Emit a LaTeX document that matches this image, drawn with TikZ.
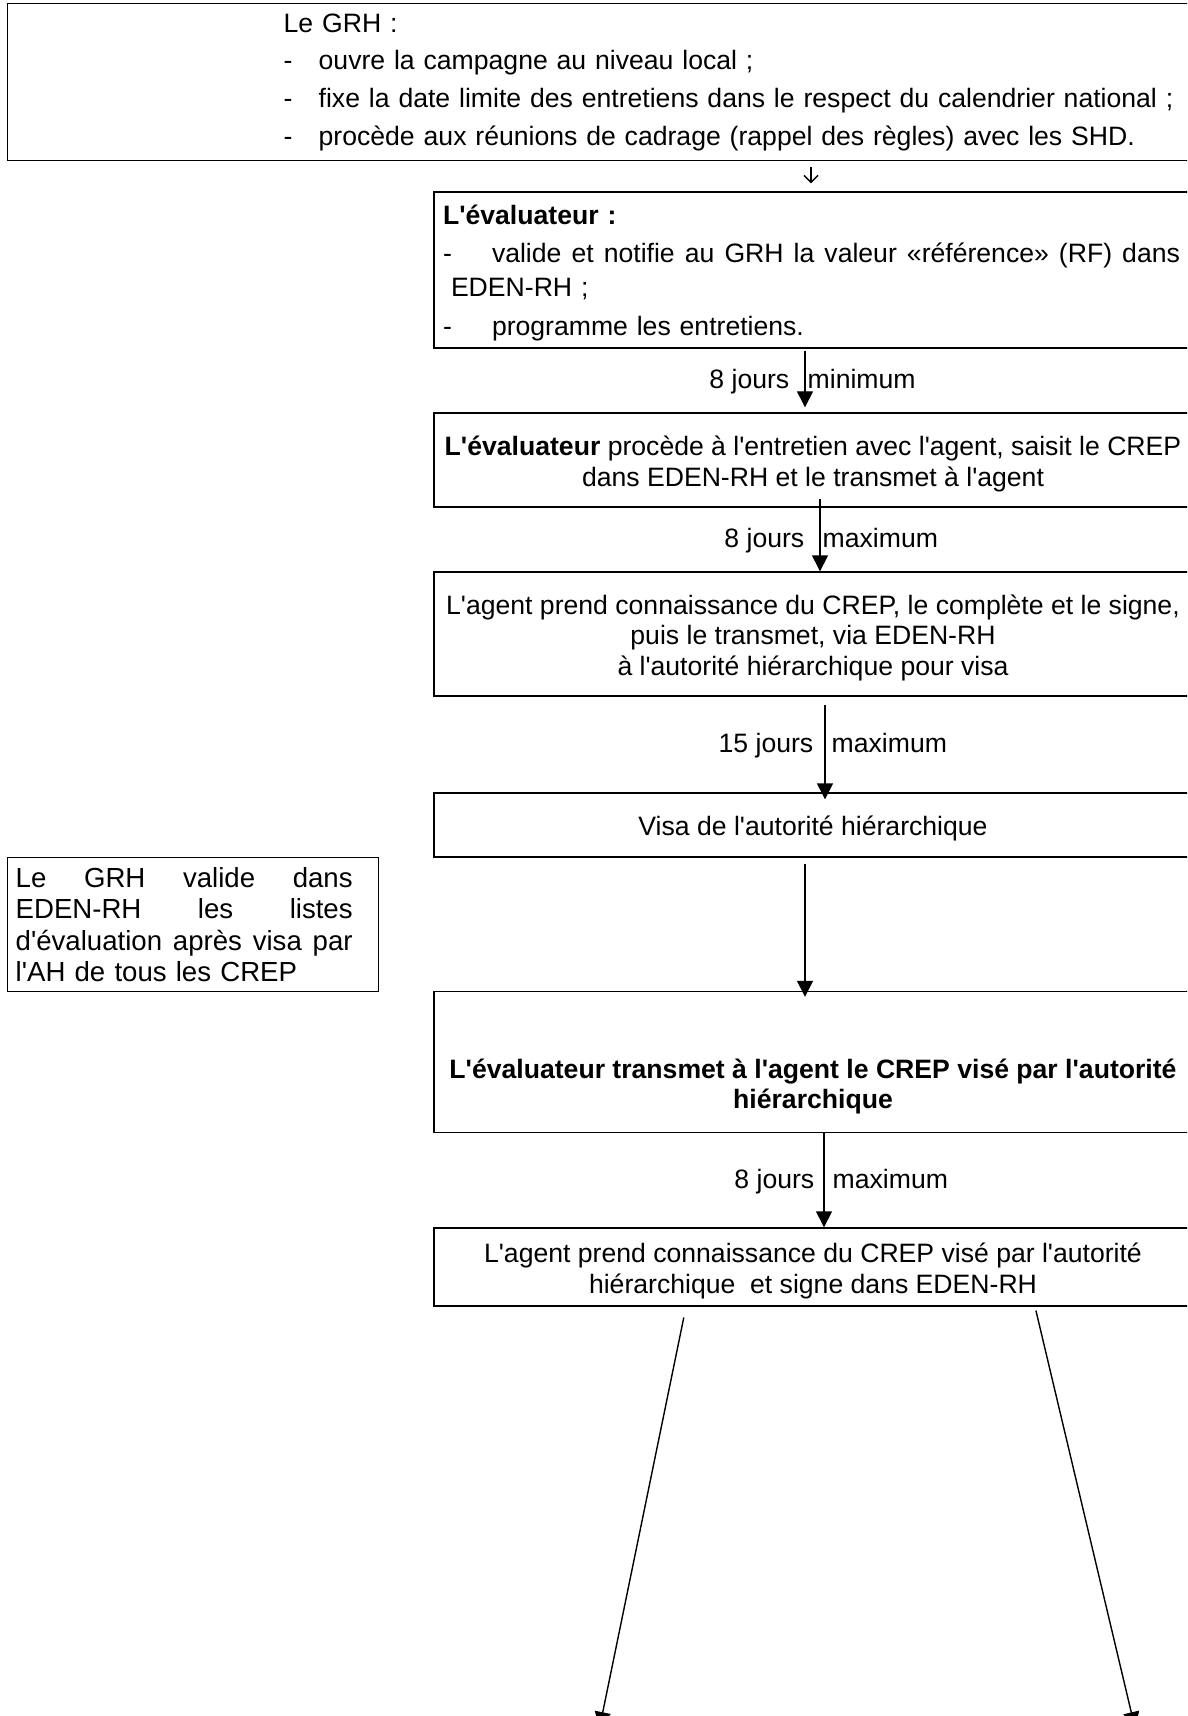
\documentclass[tikz,border=0pt]{standalone}
\usepackage{fontspec}
\setmainfont{Liberation Sans}[Ligatures=TeXOff]
\usepackage{tikz}
\usetikzlibrary{arrows.meta, calc}

\newcommand{\topstrut}{\rule{0pt}{13.5pt}}

\begin{document}
\begin{tikzpicture}[
  x=0.5pt, y=-0.5pt,
  box/.style={rectangle, draw, line width=0.7pt, inner sep=0pt, minimum width=379pt,
    align=center, font=\fontsize{13.3pt}{15.3pt}\selectfont},
  lbl/.style={inner sep=0pt, yshift=-4pt, font=\fontsize{13.3pt}{15.3pt}\selectfont},
  arrow/.style={-{Triangle[length=8pt, width=8pt]}, line width=0.7pt},
  barb/.style={-{Straight Barb[length=3.5pt, width=7pt]}, line width=0.7pt},
]
\useasboundingbox (0,0) rectangle (1187,1716);
\clip (0,0) rectangle (1187,1716);

\node[box, anchor=north west, minimum width=596.5pt, minimum height=78.5pt, text width=596.5pt, align=left] (grh) at (7,3)
  {\hspace*{138pt}Le GRH :\\[3.5pt]
   \hspace*{138pt}\makebox[17.5pt][l]{-}ouvre la campagne au niveau local ;\\[3.5pt]
   \hspace*{138pt}\makebox[17.5pt][l]{-}fixe la date limite des entretiens dans le respect du calendrier national ;\\[3.5pt]
   \hspace*{138pt}\makebox[17.5pt][l]{-}procède aux réunions de cadrage (rappel des règles) avec les SHD.};
\node[box, minimum height=78pt, text width=370pt, inner xsep=4.5pt, align=left] (evaluateur) at (813,270)
  {\rule{0pt}{13pt}\textbf{L'évaluateur :}\\[3.5pt]
   \makebox[24.5pt][l]{-}\makebox[344pt][s]{valide \hfill et \hfill notifie \hfill au \hfill GRH \hfill la \hfill valeur \hfill «référence» \hfill (RF) \hfill dans}\\[1.5pt]
   \hspace*{4pt}EDEN-RH ;\\[4.5pt]
   \makebox[24.5pt][l]{-}programme les entretiens.};
\node[box, minimum height=47pt] (entretien) at (813,460)
  {\topstrut\textbf{L'évaluateur} procède à l'entretien avec l'agent, saisit le CREP\\dans EDEN-RH et le transmet à l'agent};
\node[box, minimum height=62pt] (crepagent) at (813,634)
  {\topstrut L'agent prend connaissance du CREP, le complète et le signe,\\puis le transmet, via EDEN-RH\\à l'autorité hiérarchique pour visa};
\node[box, minimum height=32pt] (visa) at (813,825) {\topstrut Visa de l'autorité hiérarchique};
\node[box, anchor=north west, minimum width=185.5pt, minimum height=67pt, text width=177.5pt, inner xsep=4pt, align=left,
  font=\fontsize{13.8pt}{15.6pt}\selectfont] (listes) at (7,857)
  {\makebox[168.5pt][s]{Le \hfill GRH \hfill valide \hfill dans}\\
   \makebox[168.5pt][s]{EDEN-RH \hfill les \hfill listes}\\
   \makebox[168.5pt][s]{d'évaluation \hfill après \hfill visa \hfill par}\\
   l'AH de tous les CREP};
\node[box, minimum height=70.5pt, font=\fontsize{13.3pt}{15.3pt}\selectfont\bfseries] (transmet) at (813,1062)
  {\mbox{}\\[19pt]L'évaluateur transmet à l'agent le CREP visé par l'autorité\\hiérarchique};
\node[box, minimum height=39pt] (signature) at (813,1267)
  {\topstrut L'agent prend connaissance du CREP visé par l'autorité\\hiérarchique\ \ et signe dans EDEN-RH};

\coordinate (outleft) at (599.5,1728);
\coordinate (outright) at (1135,1728);

\draw[barb, shorten <=3pt, shorten >=4pt] ($(grh.south -| evaluateur.north)+(-2,0)$) -- ($(evaluateur.north)+(-2,0)$);
\draw[arrow, shorten <=1pt, shorten >=2.5pt] ($(evaluateur.south)+(-8,0)$) --
  node[lbl, pos=.5, anchor=base east, xshift=-7.5pt] (delaya) {8 jours}
  node[lbl, pos=.5, anchor=base west, xshift=1pt] (limita) {minimum} ($(entretien.north)+(-8,0)$);
\draw[arrow, shorten <=-4.5pt] ($(entretien.south)+(7,0)$) --
  node[lbl, pos=.5, anchor=base east, xshift=-7.5pt] (delayb) {8 jours}
  node[lbl, pos=.5, anchor=base west, xshift=1pt] (limitb) {maximum} ($(crepagent.north)+(7,0)$);
\draw[arrow, shorten <=4pt, shorten >=-3.5pt] ($(crepagent.south)+(12,0)$) --
  node[lbl, pos=.5, anchor=base east, xshift=-5.5pt] (delayc) {15 jours}
  node[lbl, pos=.5, anchor=base west, xshift=3pt] (limitc) {maximum} ($(visa.north)+(12,0)$);
\draw[arrow, shorten <=3pt, shorten >=-3pt] ($(visa.south)+(-8,0)$) -- ($(transmet.north)+(-8,0)$);
\draw[arrow] ($(transmet.south)+(11,0)$) --
  node[lbl, pos=.5, anchor=base east, xshift=-4.5pt] (delayd) {8 jours}
  node[lbl, pos=.5, anchor=base west, xshift=4pt] (limitd) {maximum} ($(signature.north)+(11,0)$);
\draw[arrow, shorten <=5.5pt] ($(signature.south)+(-127,0)$) -- (outleft);
\draw[arrow, shorten <=2pt] ($(signature.south)+(222,0)$) -- (outright);

\end{tikzpicture}
\end{document}
